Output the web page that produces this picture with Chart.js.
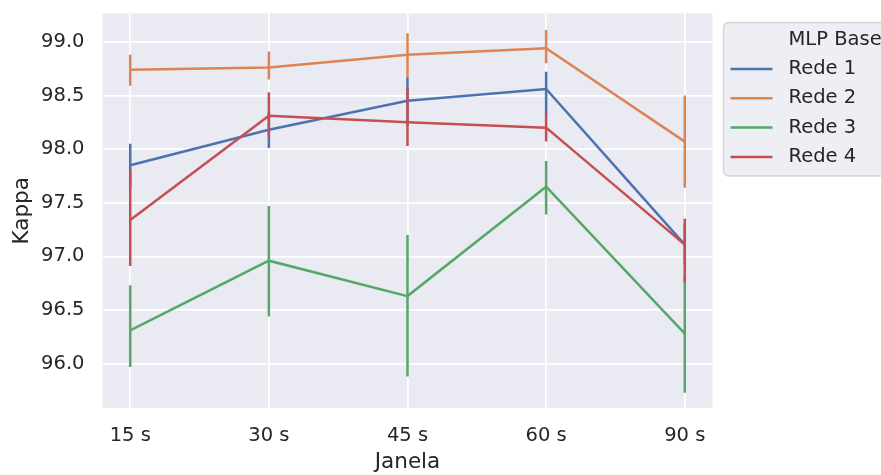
<!DOCTYPE html>
<html>
<head>
<meta charset="utf-8">
<script src="https://cdn.jsdelivr.net/npm/chart.js@4/dist/chart.umd.min.js"></script>
<style>
  body { margin: 0; background: #ffffff; }
  #wrap { width: 881px; height: 475px; }
</style>
</head>
<body>
<div id="wrap"><canvas id="chart" width="881" height="475"></canvas></div>
<script>
const categories = ['15 s', '30 s', '45 s', '60 s', '90 s'];
const yTicks = [96.0, 96.5, 97.0, 97.5, 98.0, 98.5, 99.0];

const rede1 = [97.85, 98.18, 98.45, 98.56, 97.11];
const rede1Lo = [97.64, 98.01, 98.22, 98.33, 96.92];
const rede1Hi = [98.05, 98.35, 98.67, 98.72, 97.30];

const rede2 = [98.74, 98.76, 98.88, 98.94, 98.07];
const rede2Lo = [98.59, 98.65, 98.67, 98.80, 97.64];
const rede2Hi = [98.88, 98.91, 99.08, 99.11, 98.50];

const rede3 = [96.31, 96.96, 96.63, 97.65, 96.28];
const rede3Lo = [95.97, 96.44, 95.88, 97.39, 95.73];
const rede3Hi = [96.73, 97.47, 97.20, 97.89, 96.83];

const rede4 = [97.34, 98.31, 98.25, 98.20, 97.11];
const rede4Lo = [96.91, 98.11, 98.03, 98.07, 96.76];
const rede4Hi = [97.81, 98.53, 98.57, 98.34, 97.35];

const seriesNames = ['Rede 1', 'Rede 2', 'Rede 3', 'Rede 4'];
const colors = ['#4C72B0', '#DD8452', '#55A868', '#C44E52'];
const textColor = '#262626';
const font = 'DejaVu Sans';

const series = [rede1, rede2, rede3, rede4];
const lows = [rede1Lo, rede2Lo, rede3Lo, rede4Lo];
const highs = [rede1Hi, rede2Hi, rede3Hi, rede4Hi];

// grey axes background, seaborn style
const plotBg = {
    id: 'plotBg',
    beforeDraw(chart) {
        const { ctx, chartArea: a } = chart;
        ctx.save();
        ctx.fillStyle = '#EAEAF2';
        ctx.fillRect(a.left, a.top, a.right - a.left, a.bottom - a.top);
        ctx.restore();
    }
};

// vertical error bars, drawn right after their own line
const errorBars = {
    id: 'errorBars',
    afterDatasetDraw(chart, args) {
        const ds = chart.data.datasets[args.index];
        const { ctx, chartArea: a } = chart;
        const xs = chart.scales.x, ys = chart.scales.y;
        ctx.save();
        ctx.beginPath();
        ctx.rect(a.left, a.top, a.right - a.left, a.bottom - a.top);
        ctx.clip();
        ctx.strokeStyle = ds.borderColor;
        ctx.lineWidth = 2.5;
        ctx.lineCap = 'butt';
        ds.lo.forEach((lo, i) => {
            const x = xs.getPixelForValue(i);
            ctx.beginPath();
            ctx.moveTo(x, ys.getPixelForValue(lo));
            ctx.lineTo(x, ys.getPixelForValue(ds.hi[i]));
            ctx.stroke();
        });
        ctx.restore();
    }
};

// legend box outside the axes, cut by the right edge like the original
const sideLegend = {
    id: 'sideLegend',
    afterDraw(chart) {
        const ctx = chart.ctx;
        const left = 723.5, top = 22.5, h = 153.5, w = 200, r = 5;
        ctx.save();
        ctx.beginPath();
        ctx.roundRect(left, top, w, h, r);
        ctx.fillStyle = 'rgba(234,234,242,0.8)';
        ctx.fill();
        ctx.strokeStyle = 'rgba(204,204,204,0.8)';
        ctx.lineWidth = 1.3;
        ctx.stroke();

        ctx.font = '19.5px "' + font + '"';
        ctx.fillStyle = textColor;
        ctx.textBaseline = 'middle';
        ctx.textAlign = 'left';
        ctx.fillText('MLP Base', 788.5, 40);
        seriesNames.forEach((name, i) => {
            const y = 69 + i * 29.3;
            ctx.strokeStyle = colors[i];
            ctx.lineWidth = 2.5;
            ctx.beginPath();
            ctx.moveTo(730.5, y);
            ctx.lineTo(772.5, y);
            ctx.stroke();
            ctx.fillStyle = textColor;
            ctx.fillText(name, 788.5, y);
        });
        ctx.restore();
    }
};

const ctx = document.getElementById('chart').getContext('2d');
new Chart(ctx, {
    type: 'line',
    data: {
        labels: categories,
        datasets: series.map((vals, k) => ({
            label: seriesNames[k],
            data: vals.map((v, i) => ({ x: i, y: v })),
            lo: lows[k],
            hi: highs[k],
            borderColor: colors[k],
            backgroundColor: colors[k],
            borderWidth: 2.5,
            pointRadius: 0,
            tension: 0,
            fill: false,
            order: 3 - k
        }))
    },
    options: {
        responsive: false,
        animation: false,
        events: [],
        layout: { padding: { top: 13.5, right: 168.5, left: 0, bottom: 0 } },
        plugins: {
            legend: { display: false },
            tooltip: { enabled: false }
        },
        scales: {
            x: {
                type: 'linear',
                min: -0.2,
                max: 4.2,
                border: { display: false },
                grid: { color: '#ffffff', lineWidth: 1.7, drawTicks: false },
                afterBuildTicks: scale => {
                    scale.ticks = categories.map((c, i) => ({ value: i }));
                },
                afterFit: scale => {
                    scale.height = 67;
                    scale.paddingLeft = 0;
                    scale.paddingRight = 0;
                },
                ticks: {
                    padding: 16,
                    color: textColor,
                    font: { family: font, size: 19.5 },
                    maxRotation: 0,
                    callback: v => categories[v]
                },
                title: {
                    display: true,
                    text: 'Janela',
                    color: textColor,
                    font: { family: font, size: 21.5 },
                    padding: { top: 0, bottom: 0 }
                }
            },
            y: {
                min: 95.587,
                max: 99.264,
                border: { display: false },
                grid: { color: '#ffffff', lineWidth: 1.7, drawTicks: false },
                afterBuildTicks: scale => {
                    scale.ticks = yTicks.map(v => ({ value: v }));
                },
                afterFit: scale => {
                    scale.width = 102.5;
                    scale.paddingTop = 0;
                    scale.paddingBottom = 0;
                },
                ticks: {
                    padding: 18,
                    color: textColor,
                    font: { family: font, size: 19.5 },
                    callback: v => v.toFixed(1)
                },
                title: {
                    display: true,
                    text: 'Kappa',
                    color: textColor,
                    font: { family: font, size: 21.5 },
                    padding: { top: 10, bottom: 0 }
                }
            }
        }
    },
    plugins: [plotBg, errorBars, sideLegend]
});
</script>
</body>
</html>
